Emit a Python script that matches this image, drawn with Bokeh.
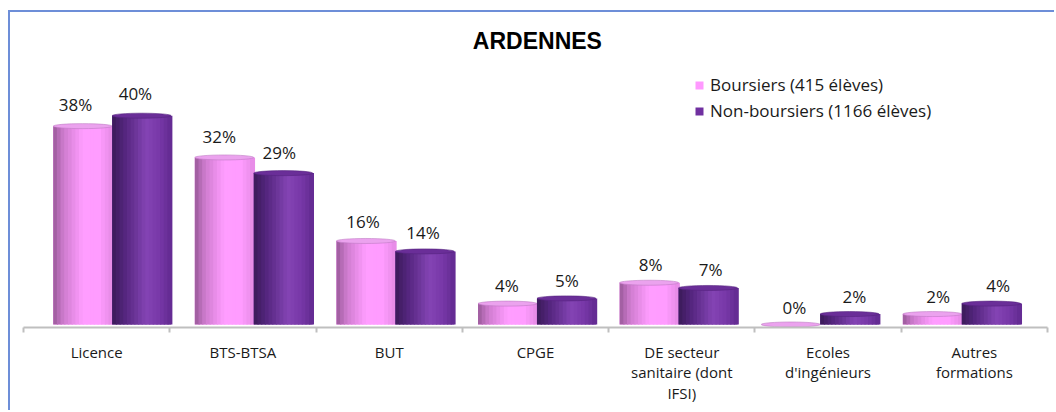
import numpy as np
from bokeh.plotting import figure
from bokeh.models import Range1d, FixedTicker, Legend, LegendItem
from bokeh.core.properties import value
from bokeh.embed import file_html
from bokeh.resources import INLINE

# ---------------- data ----------------
categories = ["Licence", "BTS-BTSA", "BUT", "CPGE",
              "DE secteur\nsanitaire (dont\nIFSI)", "Ecoles\nd'ingénieurs", "Autres\nformations"]
boursiers = [38, 32, 16, 4, 8, 0, 2]
non_boursiers = [40, 29, 14, 5, 7, 2, 4]
series_names = ["Boursiers (415 élèves)", "Non-boursiers (1166 élèves)"]
title_text = "ARDENNES"

# ---------------- styling / layout ----------------
FONT = "Open Sans"
BAR_PITCH, BAR0, BAR_W = 0.968, 0.203, 0.403
LAB_PITCH, LAB0, LAB_DX = 0.983, 0.355, 0.41
N_STRIPS = 16

pink_stops = [(0.0, "#9a5a9a"), (0.18, "#cf7ccf"), (0.5, "#ff9dff"), (0.78, "#ff9cff"), (1.0, "#e48ae4")]
purple_stops = [(0.0, "#3a1a58"), (0.22, "#55267f"), (0.58, "#8444b4"), (0.8, "#7838a8"), (1.0, "#622a90")]


def hex2rgb(h):
    h = h.lstrip("#")
    return np.array([int(h[i:i + 2], 16) for i in (0, 2, 4)], dtype=float)


def grad(stops, t):
    for (t0, c0), (t1, c1) in zip(stops[:-1], stops[1:]):
        if t0 <= t <= t1:
            f = (t - t0) / (t1 - t0) if t1 > t0 else 0
            c = hex2rgb(c0) * (1 - f) + hex2rgb(c1) * f
            return "#%02x%02x%02x" % tuple(int(round(v)) for v in c)
    return stops[-1][1]


p = figure(width=1046, height=400, output_backend="svg", toolbar_location=None,
           x_range=Range1d(0, 7), y_range=Range1d(-0.575, 59.77),
           min_border_left=13, min_border_right=9, min_border_top=0, min_border_bottom=85)
p.styles = {"margin-left": "8px", "margin-top": "10px",
            "border-left": "2px solid #6d8ed8", "border-top": "2px solid #6d8ed8"}
p.outline_line_color = None
p.xgrid.visible = False
p.ygrid.visible = False
p.yaxis.visible = False
p.background_fill_color = "white"
p.border_fill_color = "white"

idx = np.arange(len(categories))
series = [(boursiers, pink_stops, "#ff99ff", "#eba2ee", "#c07ac4", 0),
          (non_boursiers, purple_stops, "#7030a0", "#6a2e98", "#55237f", 1)]

legend_items = []
for vals, stops, base_col, top_col, top_line, s in series:
    vals = np.array(vals, dtype=float)
    left = BAR0 + BAR_PITCH * idx + s * BAR_W
    base = p.quad(left=left, right=left + BAR_W, bottom=0, top=vals,
                  fill_color=base_col, line_color=None)
    legend_items.append(LegendItem(label=series_names[s], renderers=[base]))
    dw = BAR_W / N_STRIPS
    for k in range(N_STRIPS):
        c = grad(stops, (k + 0.5) / N_STRIPS)
        p.quad(left=left + k * dw, right=left + (k + 1) * dw + dw * 0.35, bottom=0, top=vals,
               fill_color=c, line_color=None)
    # cylinder top
    p.ellipse(x=left + BAR_W / 2, y=vals, width=BAR_W, height=5, height_units="screen",
              fill_color=top_col, line_color=top_line, line_width=0.6)
    # value labels
    lx = LAB0 + LAB_PITCH * idx + s * LAB_DX
    ly = 3.35 + 1.023 * vals
    p.text(x=lx, y=ly, text=["%d%%" % v for v in vals], text_align="center",
           text_baseline="middle", text_font=value(FONT), text_font_size="17px",
           text_color="#1a1a1a")

# title
p.text(x=[3.513], y=[54.4], text=[title_text], text_align="center", text_baseline="middle",
       text_font=value("Liberation Sans"), text_font_style="bold", text_font_size="23px",
       text_color="#000000")

legend = Legend(items=legend_items, location=(671, 205), orientation="vertical",
                glyph_width=10, glyph_height=10, label_standoff=6, spacing=3,
                padding=0, margin=0, border_line_color=None, background_fill_alpha=0,
                label_text_font=FONT, label_text_font_size="17px", label_text_color="#1a1a1a")
p.add_layout(legend, "center")

ax = p.xaxis[0]
ax.ticker = FixedTicker(ticks=list(idx + 0.5), minor_ticks=list(range(len(categories) + 1)))
ax.major_label_overrides = {float(i + 0.5): c for i, c in enumerate(categories)}
ax.axis_line_color = "#bfbfbf"
ax.axis_line_width = 2
ax.major_tick_out = 0
ax.major_tick_in = 0
ax.minor_tick_out = 5
ax.minor_tick_in = 0
ax.minor_tick_line_color = "#bfbfbf"
ax.minor_tick_line_width = 2
ax.major_label_standoff = 9
ax.major_label_text_font = FONT
ax.major_label_text_font_size = "15px"
ax.major_label_text_color = "#1a1a1a"
ax.major_label_text_line_height = 1.03

open("out.html", "w").write(file_html(p, INLINE))
